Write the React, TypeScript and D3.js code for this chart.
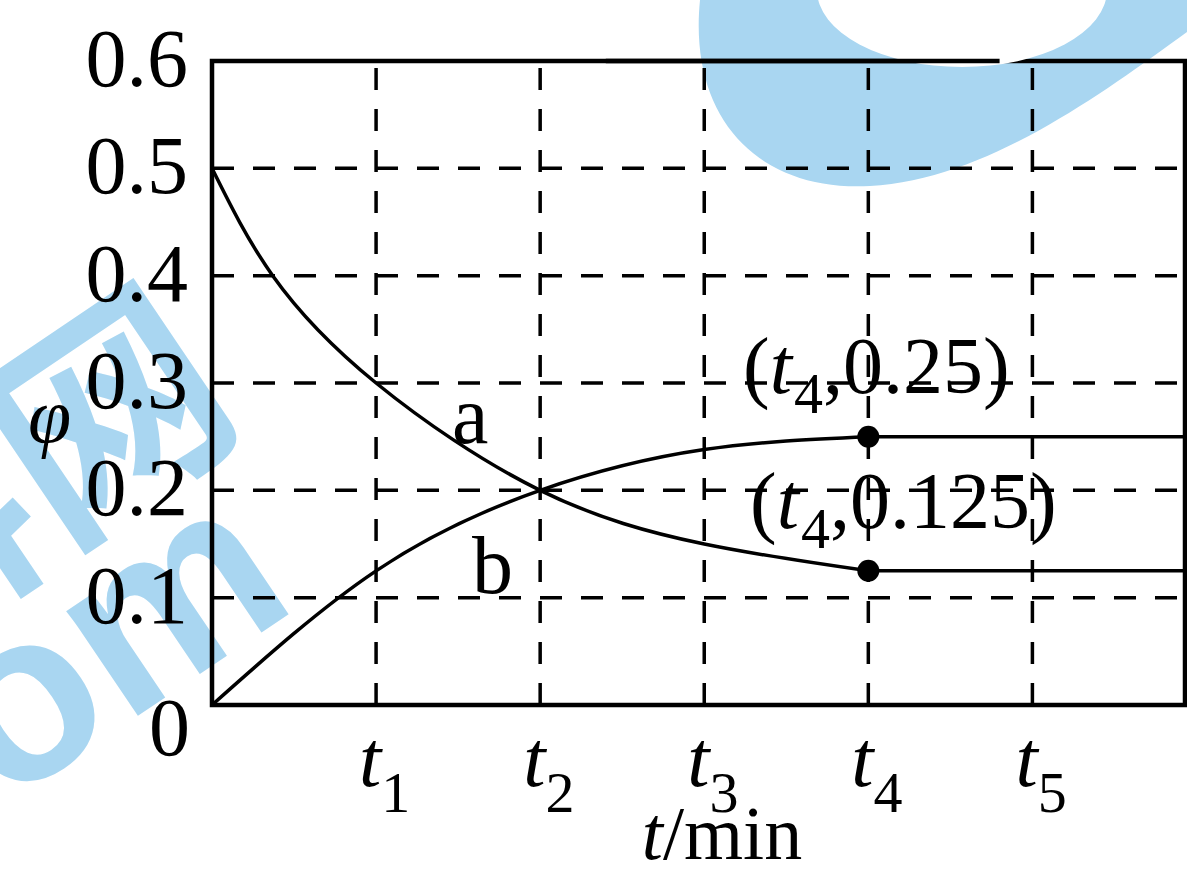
import React from 'react';
import * as d3 from 'd3';

// time axis (in units of t1) and the phi values
const tTicks = [1, 2, 3, 4, 5];
const tTickLabels = ['1', '2', '3', '4', '5'];
const phiTicks = [0, 0.1, 0.2, 0.3, 0.4, 0.5, 0.6];
const phiTickLabels = ['0', '0.1', '0.2', '0.3', '0.4', '0.5', '0.6'];

// curve a (falls) and curve b (rises); both level off after t4
const aT = [0, 0.37, 1, 2, 3, 4, 5.93];
const aPhi = [0.5, 0.4, 0.3, 0.2, 0.15, 0.125, 0.125];
const bT = [0, 1, 2, 3, 4, 5.93];
const bPhi = [0, 0.125, 0.2, 0.238, 0.25, 0.25];
const tLevel = 4;

const markT = [4, 4];
const markPhi = [0.25, 0.125];

const W = 1187;
const H = 870;
const serif = '"Liberation Serif", "DejaVu Serif", serif';
const blue = '#a9d6f1';

const App = () => {
  const x = d3.scaleLinear().domain([0, 5.93]).range([212, 1185]);
  const y = d3.scaleLinear().domain([0, 0.6]).range([705, 61]);

  const smooth = d3
    .line<[number, number]>()
    .x((d) => x(d[0]))
    .y((d) => y(d[1]))
    .curve(d3.curveNatural);
  const straight = d3
    .line<[number, number]>()
    .x((d) => x(d[0]))
    .y((d) => y(d[1]));

  const split = (ts: number[], vs: number[]) => {
    const pts: [number, number][] = ts.map((t, i) => [t, vs[i]]);
    const rise = pts.filter((p) => p[0] <= tLevel);
    const flat = pts.filter((p) => p[0] >= tLevel);
    return (smooth(rise) || '') + (straight(flat) || '');
  };

  const aPath = split(aT, aPhi);
  const bPath = split(bT, bPhi);

  const x0 = x(0);
  const x1 = x(5.93);

  return (
    <svg
      width={W}
      height={H}
      style={{ position: 'absolute', left: 0, top: 0, background: '#fff' }}
      fontFamily={serif}
    >
      {/* dashed grid */}
      <g stroke="#000" strokeWidth={3.5} strokeDasharray="22 19">
        {phiTicks.slice(1, 6).map((v) => (
          <line key={'h' + v} x1={x0} x2={x1} y1={y(v)} y2={y(v)} />
        ))}
        {tTicks.map((t) => (
          <line key={'v' + t} x1={x(t)} x2={x(t)} y1={y(0)} y2={y(0.6)} />
        ))}
      </g>

      {/* frame */}
      <rect
        x={x0}
        y={y(0.6)}
        width={x1 - x0}
        height={y(0) - y(0.6)}
        fill="none"
        stroke="#000"
        strokeWidth={4.5}
      />

      {/* curves */}
      <path d={aPath} fill="none" stroke="#000" strokeWidth={3.5} />
      <path d={bPath} fill="none" stroke="#000" strokeWidth={3.5} />
      {markT.map((t, i) => (
        <circle key={i} cx={x(t)} cy={y(markPhi[i])} r={11} fill="#000" />
      ))}

      {/* y tick labels */}
      <g fontSize={82} textAnchor="end">
        {phiTicks.map((v, i) =>
          v === 0 ? (
            <text key={v} x={190} y={y(v) + 50}>
              {phiTickLabels[i]}
            </text>
          ) : (
            <text key={v} x={188} y={y(v) + 25}>
              {phiTickLabels[i]}
            </text>
          )
        )}
      </g>

      {/* x tick labels */}
      <g fontSize={80}>
        {tTicks.map((t, i) => (
          <text key={t} x={x(t) - 17} y={786}>
            <tspan fontStyle="italic">t</tspan>
            <tspan fontSize={58} dy={26}>
              {tTickLabels[i]}
            </tspan>
          </text>
        ))}
      </g>

      {/* axis titles */}
      <text x={722} y={859} fontSize={76} textAnchor="middle">
        <tspan fontStyle="italic">t</tspan>/min
      </text>
      <text x={28} y={442} fontSize={78} fontStyle="italic">
        φ
      </text>

      {/* curve names */}
      <text x={452} y={443} fontSize={82}>a</text>
      <text x={472} y={593} fontSize={82}>b</text>

      {/* point labels */}
      <text x={743} y={393} fontSize={80}>
        (<tspan fontStyle="italic">t</tspan>
        <tspan fontSize={58} dy={20} dx={2}>4</tspan>
        <tspan dy={-20}>,0.25)</tspan>
      </text>
      <text x={750} y={528} fontSize={80}>
        (<tspan fontStyle="italic">t</tspan>
        <tspan fontSize={58} dy={20} dx={2}>4</tspan>
        <tspan dy={-20}>,0.125)</tspan>
      </text>

      {/* watermark */}
      <g style={{ mixBlendMode: 'multiply' }} fill={blue}>
        <path d="M700,0 C688,120 760,192 870,186 C985,180 1100,95 1187,32 L1187,0 Z" />
        <text
          x={301}
          y={606}
          fontSize={240}
          fontWeight="bold"
          fontFamily='"Liberation Sans", Arial, sans-serif'
          textAnchor="end"
          transform="rotate(-34 301 606)"
        >
          zxxk.com
        </text>
        <text
          x={250}
          y={420}
          fontSize={230}
          fontWeight="bold"
          fontFamily='"Noto Sans CJK SC", sans-serif'
          textAnchor="end"
          transform="rotate(-34 250 420)"
        >
          学科网
        </text>
      </g>
      <ellipse cx={962} cy={-10} rx={145} ry={77} fill="#fff" />
      <line x1={x(2.4)} x2={x(4.8)} y1={y(0.6)} y2={y(0.6)} stroke="#000" strokeWidth={4.5} />
    </svg>
  );
};

export default App;
